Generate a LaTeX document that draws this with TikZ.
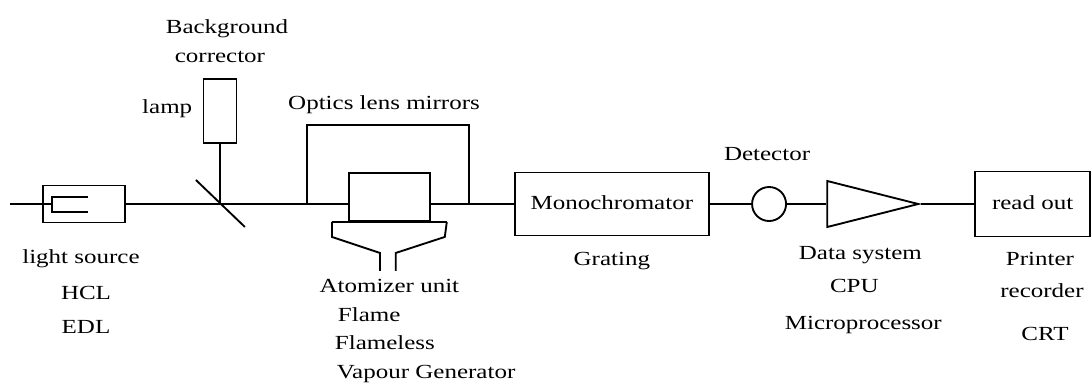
\documentclass[tikz,border=0pt]{standalone}
\usepackage{fontspec}
\setmainfont[FakeStretch=1.25]{Liberation Serif}
\usepackage{tikz}
\usetikzlibrary{positioning,shapes.geometric}

\begin{document}
\begin{tikzpicture}[
  every node/.style={inner sep=0pt},
  box/.style={draw, line width=1.4pt},
  beam/.style={line width=1.4pt},
  lbl/.style={font=\fontsize{15}{18}\selectfont, text height=11pt, text depth=3pt},
]
\useasboundingbox (0pt,0pt) rectangle (818.25pt,-290.25pt);
\node[box, minimum width=61.5pt, minimum height=27.75pt] (source) at (63pt,-153pt) {};
\coordinate[left=24pt of source.west] (in);
\coordinate[right=7.5pt of source.west] (fork);
\coordinate[right=70.5pt of source.east] (split);
\node[box, minimum width=24.75pt, minimum height=48pt, above=45pt of split] (lamp) {};
\coordinate[right=65.25pt of split] (optl);
\coordinate[right=186.75pt of split] (optr);
\node[box, minimum width=60.75pt, minimum height=36pt, right=96pt of split, yshift=5.25pt] (cell) {};
\coordinate[left=12pt of cell.south west] (fl);
\coordinate[right=12pt of cell.south east] (fr);
\node[box, lbl, minimum width=145.5pt, minimum height=47.25pt, right=220.5pt of split] (mono) {Monochromator};
\node[box, circle, minimum size=25.5pt, right=31pt of mono] (det) {};
\node[box, isosceles triangle, isosceles triangle stretches, minimum width=34.5pt, minimum height=68.25pt, right=29.5pt of det] (amp) {};
\node[box, lbl, minimum width=86.5pt, minimum height=48.75pt, right=40pt of amp.apex] (readout) {read out};

\draw[beam] (in) -- (fork);
\draw[beam] (fork) ++(27pt,5.25pt) -- ++(-27pt,0) -- ++(0,-11.25pt) -- ++(27pt,0);
\draw[beam] (source) -- (split);
\draw[beam] (lamp) -- (split);
\draw[beam] (split) ++(-18pt,18pt) -- ++(36.75pt,-35.25pt);
\draw[beam] (split) -- (split -| cell.west);
\draw[beam] (optl) -- ++(0,59.25pt) -| (optr);
\draw[beam] (optr -| cell.east) -- (mono.west);
\draw[beam] (fl) -- (fr);
\draw[beam] (fl) -- ++(0,-11.25pt) -- ++(36pt,-12pt) -- ++(0,-13.5pt);
\draw[beam] (fr) -- ++(-1.5pt,-11.25pt) -- ++(-36.75pt,-12pt) -- ++(0,-13.5pt);
\draw[beam] (mono) -- (det);
\draw[beam] (det) -- (amp.west);
\draw[beam] (amp.apex) -- (readout);

\node[lbl, below=18.75pt of source, xshift=-2.25pt] (srclbl) {light source};
\node[lbl, below=13pt of srclbl, xshift=3.75pt] (hcl) {HCL};
\node[lbl, below=10.75pt of hcl] (edl) {EDL};
\node[lbl, above=8.5pt of lamp] (corr) {corrector};
\node[lbl, above=7.75pt of corr, xshift=5.25pt] (bg) {Background};
\node[lbl, left=7.5pt of lamp, yshift=2pt] (lamplbl) {lamp};
\node[lbl, above=43.5pt of cell, xshift=-4pt] (optics) {Optics lens mirrors};
\node[lbl, below=42pt of cell] (atom) {Atomizer unit};
\node[lbl, below right=7pt and 13.75pt of atom.south west] (flame) {Flame};
\node[lbl, below right=7pt and -2.25pt of flame.south west] (flameless) {Flameless};
\node[lbl, below right=7pt and 1.5pt of flameless.south west] (vapour) {Vapour Generator};
\node[lbl, below=10.5pt of mono] (grating) {Grating};
\node[lbl, above=16pt of det, xshift=-1.5pt] (detlbl) {Detector};
\node[lbl, below=30.5pt of amp.west, xshift=25.5pt] (data) {Data system};
\node[lbl, below=10pt of data, xshift=-4.5pt] (cpu) {CPU};
\node[lbl, below=13.75pt of cpu, xshift=6.75pt] (micro) {Microprocessor};
\node[lbl, below=9.75pt of readout, xshift=5.5pt] (printer) {Printer};
\node[lbl, below=10pt of printer, xshift=1.5pt] (recorder) {recorder};
\node[lbl, below=17.5pt of recorder, xshift=2.25pt] (crt) {CRT};
\end{tikzpicture}
\end{document}
